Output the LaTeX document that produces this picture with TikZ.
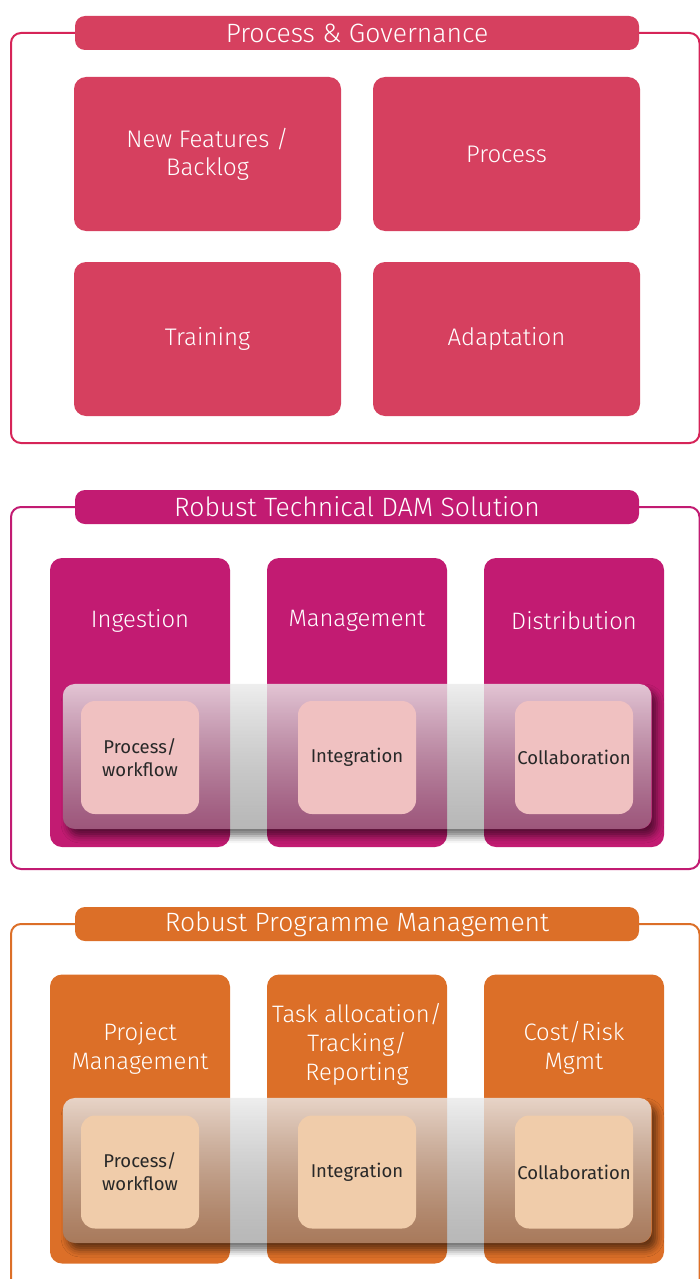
\documentclass[tikz,border=0pt]{standalone}
\usepackage{fontspec}
\setmainfont{Fira Sans}[UprightFont={* Light}]
\newfontfamily\innerfont{Fira Sans}
\usetikzlibrary{fadings,shadows.blur}
\definecolor{pgred}{RGB}{214,64,95}
\definecolor{pgline}{RGB}{214,36,88}
\definecolor{dammag}{RGB}{194,27,114}
\definecolor{pmorange}{RGB}{220,111,40}
\definecolor{innpink}{RGB}{240,193,193}
\definecolor{innpeach}{RGB}{240,204,170}
\definecolor{bandtop}{RGB}{234,234,234}
\definecolor{bandbot}{RGB}{130,130,130}
\definecolor{innertext}{RGB}{40,40,40}
\tikzfading[name=bandfade, top color=transparent!18, bottom color=transparent!43]
\tikzset{
  frame/.style={line width=2pt, rounded corners=10pt},
  header/.style={rounded corners=10pt, minimum width=564pt, minimum height=34pt, inner sep=0pt,
    text=white, font=\fontsize{26.5}{30}\selectfont},
  tile/.style={rounded corners=12pt, minimum width=267pt, minimum height=154pt, inner sep=0pt,
    text=white, align=center, font=\fontsize{24}{28}\selectfont},
  column/.style={rounded corners=12pt, minimum width=180pt, minimum height=289pt, inner sep=0pt},
  coltitle/.style={text=white, align=center, font=\fontsize{23.8}{29}\selectfont},
  bandshadow/.style={blur shadow={shadow xshift=5pt, shadow yshift=-7pt,
    shadow blur radius=7pt, shadow opacity=55}},
  band/.style={rounded corners=12pt, minimum width=589pt, minimum height=145pt, inner sep=0pt,
    top color=bandtop, bottom color=bandbot, path fading=bandfade},
  inner/.style={rounded corners=14pt, minimum width=118pt, minimum height=113pt, inner sep=0pt,
    text=innertext, align=center, font=\innerfont\fontsize{18.5}{23}\selectfont},
}
\begin{document}
\begin{tikzpicture}[x=1pt, y=-1pt]
\useasboundingbox (0,0) rectangle (700,1279);
\begin{scope}
\clip (0,0) rectangle (700,1279);
% ---------- Section 1 ----------
\draw[frame, pgline] (11,33) rectangle (699.5,443);
\node[header, fill=pgred] (h1) at (357,33) {Process \& Governance};
\node[tile, fill=pgred] (nf) at (207.5,154) {New Features /\\Backlog};
\node[tile, fill=pgred] (pr) at (506.5,154) {Process};
\node[tile, fill=pgred] (tr) at (207.5,339) {Training};
\node[tile, fill=pgred] (ad) at (506.5,339) {Adaptation};
% ---------- Section 2 ----------
\draw[frame, dammag] (11,507) rectangle (699.5,869);
\node[header, fill=dammag] (h2) at (357,507) {Robust Technical DAM Solution};
\node[column, fill=dammag] (c21) at (140,702.5) {};
\node[column, fill=dammag] (c22) at (357,702.5) {};
\node[column, fill=dammag] (c23) at (574,702.5) {};
\node[coltitle] (t21) at (140,621) {Ingestion};
\node[coltitle] (t22) at (357,621) {Management};
\node[coltitle] (t23) at (574,621) {Distribution};
\begin{scope}[even odd rule, rounded corners=12pt]
\clip (-100,-100) rectangle (800,1400) (63,684) rectangle (652,829);
\path[bandshadow] (63,684) rectangle (652,829);
\end{scope}
\node[band] (b2) at (357.5,756.5) {};
\node[inner, fill=innpink] (i21) at (140,757.5) {Process/\\workflow};
\node[inner, fill=innpink] (i22) at (357,757.5) {Integration};
\node[inner, fill=innpink] (i23) at (574,757.5) {Collaboration};
% ---------- Section 3 ----------
\draw[frame, pmorange] (11,924) rectangle (699.5,1300);
\node[header, fill=pmorange] (h3) at (357,924) {Robust Programme Management};
\node[column, fill=pmorange] (c31) at (140,1119) {};
\node[column, fill=pmorange] (c32) at (357,1119) {};
\node[column, fill=pmorange] (c33) at (574,1119) {};
\node[coltitle] (t31) at (140,1048) {Project\\Management};
\node[coltitle] (t32) at (357,1044) {Task allocation/\\Tracking/\\Reporting};
\node[coltitle] (t33) at (574,1048) {Cost/Risk\\Mgmt};
\begin{scope}[even odd rule, rounded corners=12pt]
\clip (-100,-100) rectangle (800,1400) (63,1098) rectangle (652,1243);
\path[bandshadow] (63,1098) rectangle (652,1243);
\end{scope}
\node[band] (b3) at (357.5,1170.5) {};
\node[inner, fill=innpeach] (i31) at (140,1172) {Process/\\workflow};
\node[inner, fill=innpeach] (i32) at (357,1172) {Integration};
\node[inner, fill=innpeach] (i33) at (574,1172) {Collaboration};
\end{scope}
\end{tikzpicture}
\end{document}
